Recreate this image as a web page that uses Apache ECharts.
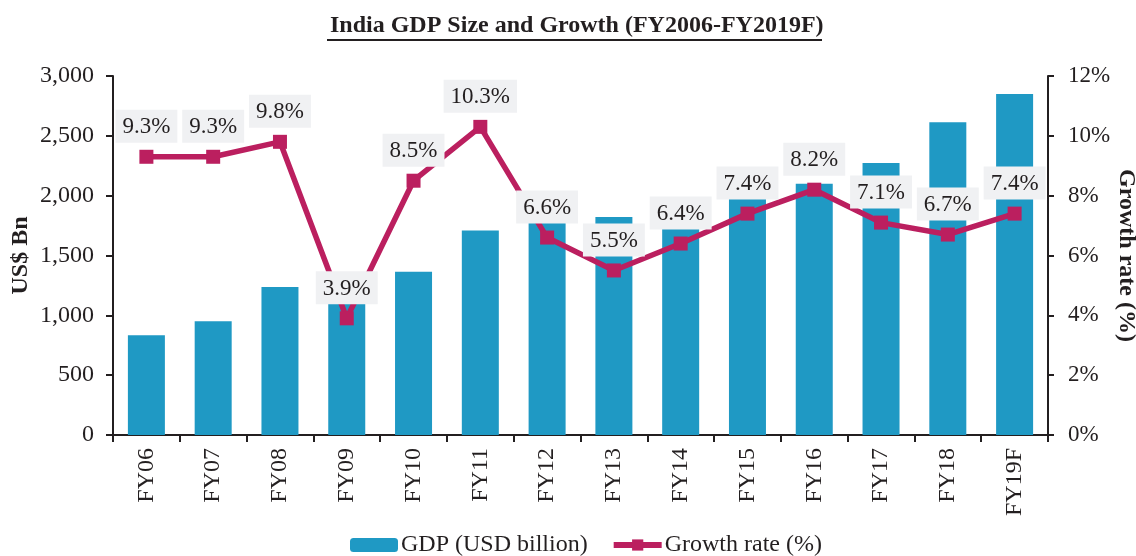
<!DOCTYPE html>
<html>
<head>
<meta charset="utf-8">
<script src="https://cdn.jsdelivr.net/npm/echarts@6/dist/echarts.min.js"></script>
<style>
  html, body { margin: 0; padding: 0; background: #fff; }
  #main { width: 1136px; height: 556px; }
</style>
</head>
<body>
<div id="main"></div>
<script>
// categories and values
const years = ['FY06', 'FY07', 'FY08', 'FY09', 'FY10', 'FY11', 'FY12', 'FY13', 'FY14', 'FY15', 'FY16', 'FY17', 'FY18', 'FY19F']
const gdp = [834, 951, 1236, 1224, 1365, 1708, 1827, 1822, 1857, 2035, 2100, 2273, 2614, 2849]
const growth = [9.3, 9.3, 9.8, 3.9, 8.5, 10.3, 6.6, 5.5, 6.4, 7.4, 8.2, 7.1, 6.7, 7.4]

const serif = '"Liberation Serif", "DejaVu Serif", serif'
const ink = '#231f20'
const barBlue = '#1f99c4'
const lineRed = '#bb1f5f'

const chart = echarts.init(document.getElementById('main'))

const option = {
  animation: false,
  title: {
    text: 'India GDP Size and Growth (FY2006-FY2019F)',
    left: 325,
    top: 9,
    textStyle: { fontFamily: serif, fontWeight: 'bold', fontSize: 24, color: ink },
  },
  graphic: [
    // underline of the title
    { type: 'line', shape: { x1: 327, y1: 40, x2: 822, y2: 40 }, style: { stroke: ink, lineWidth: 2 } },
  ],
  grid: { left: 113, right: 88, top: 76, bottom: 121, outerBoundsMode: 'none', containLabel: false },
  legend: {
    top: 528,
    left: 345,
    itemWidth: 48,
    itemHeight: 14,
    itemGap: 23,
    textStyle: { fontFamily: serif, fontSize: 24, color: ink, padding: [0, 0, 0, -2] },
    data: [
      { name: 'GDP (USD billion)' },
      { name: 'Growth rate (%)', lineStyle: { width: 6 } },
    ],
  },
  xAxis: {
    type: 'category',
    data: years,
    axisLine: { lineStyle: { color: ink, width: 2 } },
    axisTick: { show: true, length: 7, lineStyle: { color: ink, width: 2 } },
    axisLabel: { rotate: 90, fontFamily: serif, fontSize: 24, color: ink, margin: 13 },
  },
  yAxis: [
    {
      type: 'value',
      min: 0,
      max: 3000,
      interval: 500,
      name: 'US$ Bn',
      nameLocation: 'middle',
      nameGap: 80,
      nameMoveOverlap: false,
      nameTextStyle: { fontFamily: serif, fontWeight: 'bold', fontSize: 24, color: ink },
      splitLine: { show: false },
      axisLine: { show: true, lineStyle: { color: ink, width: 2 } },
      axisTick: { show: true, length: 7, lineStyle: { color: ink, width: 2 } },
      axisLabel: {
        fontFamily: serif, fontSize: 24, color: ink, margin: 19,
        formatter: v => v.toLocaleString('en-US'),
      },
    },
    {
      type: 'value',
      min: 0,
      max: 12,
      interval: 2,
      name: 'Growth rate (%)',
      nameLocation: 'middle',
      nameRotate: -90,
      nameGap: 66,
      nameMoveOverlap: false,
      nameTextStyle: { fontFamily: serif, fontWeight: 'bold', fontSize: 24, color: ink },
      splitLine: { show: false },
      axisLine: { show: true, lineStyle: { color: ink, width: 2 } },
      axisTick: { show: true, length: 6, lineStyle: { color: ink, width: 2 } },
      axisLabel: { fontFamily: serif, fontSize: 23, color: ink, margin: 20, formatter: '{value}%' },
    },
  ],
  series: [
    {
      name: 'GDP (USD billion)',
      type: 'bar',
      data: gdp,
      barWidth: 37,
      itemStyle: { color: barBlue },
    },
    {
      name: 'Growth rate (%)',
      type: 'line',
      yAxisIndex: 1,
      data: growth,
      symbol: 'rect',
      symbolSize: 14,
      lineStyle: { color: lineRed, width: 5.5 },
      itemStyle: { color: lineRed },
      z: 5,
      label: {
        show: true,
        position: 'top',
        distance: 7,
        formatter: p => p.value.toFixed(1) + '%',
        fontFamily: serif,
        fontSize: 23,
        color: ink,
        backgroundColor: '#f0f1f3',
        padding: [6, 7, 4, 7],
      },
    },
  ],
}

chart.setOption(option)
</script>
</body>
</html>
